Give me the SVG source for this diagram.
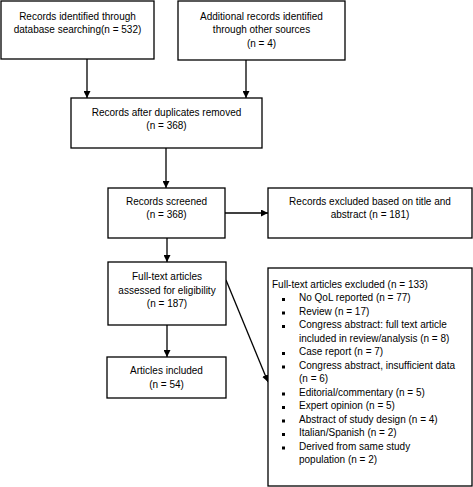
<svg xmlns="http://www.w3.org/2000/svg" width="473" height="487" viewBox="0 0 473 487">
<defs>
<style>
.box{fill:#fff;stroke:#000;stroke-width:1.3}
.t{font-family:"Liberation Sans",Arial,sans-serif;font-size:10px;fill:#000}
.c{text-anchor:middle}
.ln{stroke:#000;stroke-width:1.3;fill:none}
</style>
<marker id="ah" viewBox="0 0 10 10" refX="10" refY="5" markerWidth="7" markerHeight="7" markerUnits="userSpaceOnUse" orient="auto">
<path d="M0,0 L10,5 L0,10 z" fill="#000"/>
</marker>
</defs>
<rect width="473" height="487" fill="#fff"/>
<g id="connectors">
<line class="ln" x1="87" y1="59" x2="87" y2="98" marker-end="url(#ah)"/>
<line class="ln" x1="246" y1="60" x2="246" y2="98" marker-end="url(#ah)"/>
<line class="ln" x1="166" y1="148" x2="166" y2="188" marker-end="url(#ah)"/>
<line class="ln" x1="225" y1="213" x2="268" y2="213" marker-end="url(#ah)"/>
<line class="ln" x1="167" y1="238" x2="167" y2="262" marker-end="url(#ah)"/>
<line class="ln" x1="167" y1="325" x2="167" y2="357" marker-end="url(#ah)"/>
<line class="ln" x1="226" y1="280" x2="268" y2="382" marker-end="url(#ah)"/>
</g>
<g id="n1">
<rect class="box" x="1" y="1" width="153" height="58"/>
<text class="t c" x="77.5" y="19.5">Records identified through</text>
<text class="t c" x="77.5" y="33">database searching(n = 532)</text>
</g>
<g id="n2">
<rect class="box" x="178" y="1" width="167" height="59"/>
<text class="t c" x="261.5" y="19.5">Additional records identified</text>
<text class="t c" x="261.5" y="33">through other sources</text>
<text class="t c" x="261.5" y="46.5">(n = 4)</text>
</g>
<g id="n3">
<rect class="box" x="71" y="98" width="191" height="50"/>
<text class="t c" x="166.5" y="115.5">Records after duplicates removed</text>
<text class="t c" x="166.5" y="129">(n = 368)</text>
</g>
<g id="n4">
<rect class="box" x="108" y="188" width="117" height="50"/>
<text class="t c" x="166.5" y="204.5">Records screened</text>
<text class="t c" x="166.5" y="218">(n = 368)</text>
</g>
<g id="n5">
<rect class="box" x="268" y="188" width="204" height="50"/>
<text class="t c" x="370" y="204.5">Records excluded based on title and</text>
<text class="t c" x="370" y="218">abstract (n = 181)</text>
</g>
<g id="n6">
<rect class="box" x="108" y="262" width="118" height="63"/>
<text class="t c" x="167" y="280">Full-text articles</text>
<text class="t c" x="167" y="293.5">assessed for eligibility</text>
<text class="t c" x="167" y="307">(n = 187)</text>
</g>
<g id="n7">
<rect class="box" x="107" y="357" width="119" height="41"/>
<text class="t c" x="166.5" y="374">Articles included</text>
<text class="t c" x="166.5" y="387.5">(n = 54)</text>
</g>
<g id="n8">
<rect class="box" x="268" y="268" width="204" height="218"/>
<text class="t" x="272" y="287.5">Full-text articles excluded (n = 133)</text>
<g fill="#000">
<rect x="282" y="298" width="3" height="3"/>
<rect x="282" y="311.5" width="3" height="3"/>
<rect x="282" y="325" width="3" height="3"/>
<rect x="282" y="352" width="3" height="3"/>
<rect x="282" y="365.5" width="3" height="3"/>
<rect x="282" y="392.5" width="3" height="3"/>
<rect x="282" y="406" width="3" height="3"/>
<rect x="282" y="419.5" width="3" height="3"/>
<rect x="282" y="433" width="3" height="3"/>
<rect x="282" y="446.5" width="3" height="3"/>
</g>
<text class="t" x="299" y="301">No QoL reported (n = 77)</text>
<text class="t" x="299" y="314.5">Review (n = 17)</text>
<text class="t" x="299" y="328">Congress abstract: full text article</text>
<text class="t" x="299" y="341.5">included in review/analysis (n = 8)</text>
<text class="t" x="299" y="355">Case report (n = 7)</text>
<text class="t" x="299" y="368.5">Congress abstract, insufficient data</text>
<text class="t" x="299" y="382">(n = 6)</text>
<text class="t" x="299" y="395.5">Editorial/commentary (n = 5)</text>
<text class="t" x="299" y="409">Expert opinion (n = 5)</text>
<text class="t" x="299" y="422.5">Abstract of study design (n = 4)</text>
<text class="t" x="299" y="436">Italian/Spanish (n = 2)</text>
<text class="t" x="299" y="449.5">Derived from same study</text>
<text class="t" x="299" y="463">population (n = 2)</text>
</g>
</svg>
